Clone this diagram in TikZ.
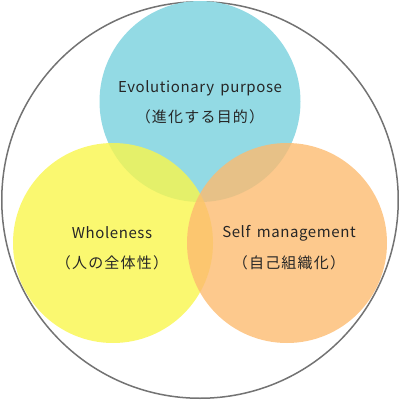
\documentclass[tikz,border=0pt]{standalone}
\usepackage{fontspec}
\setmainfont{Noto Sans CJK JP}
\newfontfamily\latinlbl[LetterSpace=4,WordSpace=1.6]{Noto Sans CJK JP}
\newfontfamily\jplbl[LetterSpace=8]{Noto Sans CJK JP}
\begin{document}
\begin{tikzpicture}[x=1pt,y=-1pt,
  lbl/.style={text=black!85, font=\latinlbl\fontsize{15}{17}\selectfont, inner sep=0pt, anchor=center},
  jlbl/.style={text=black!85, font=\jplbl\fontsize{15}{17}\selectfont, inner sep=0pt, anchor=center}]
\useasboundingbox (0,0) rectangle (400,400);
\definecolor{cyanc}{RGB}{147,218,228}
\definecolor{yelc}{RGB}{249,246,76}
\definecolor{orac}{RGB}{253,187,112}
\definecolor{ringc}{RGB}{115,115,115}
\node[circle, draw=ringc, line width=1.5pt, minimum size=396.5pt, inner sep=0pt] (outer) at (200,200) {};
\node[circle, fill=cyanc, minimum size=201pt, inner sep=0pt] (top) at (200,101.5) {};
\node[circle, fill=yelc, fill opacity=0.8, minimum size=200pt, inner sep=0pt] (left) at (113,243) {};
\node[circle, fill=orac, fill opacity=0.8, minimum size=200pt, inner sep=0pt] (right) at (287,243) {};
\node[lbl] (t1) at (200,88) {Evolutionary purpose};
\node[jlbl] (t2) at (200,117) {（進化する目的）};
\node[lbl] (l1) at (112,233) {Wholeness};
\node[jlbl] (l2) at (112,263) {（人の全体性）};
\node[lbl] (r1) at (289,233) {Self management};
\node[jlbl] (r2) at (289,263) {（自己組織化）};
\end{tikzpicture}
\end{document}
